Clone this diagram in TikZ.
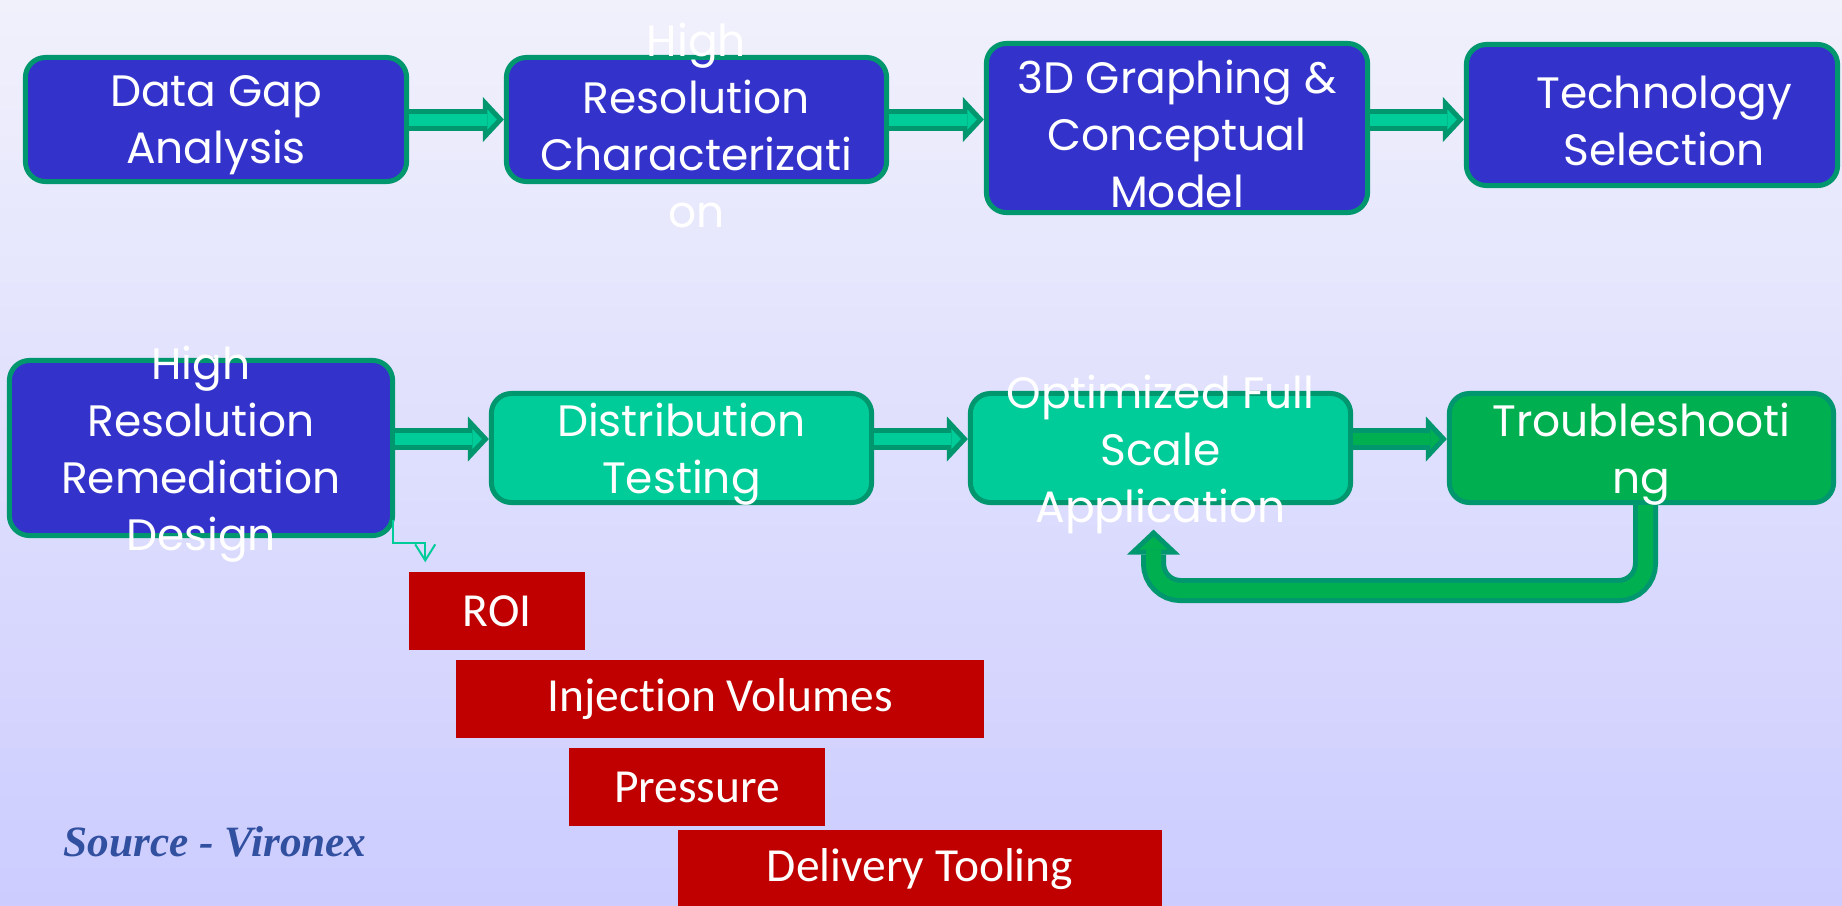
\documentclass[tikz,border=0pt]{standalone}
\usepackage{fontspec}
\usepackage{tikz}
\usetikzlibrary{calc,arrows.meta}
\newfontfamily\boxfont{Poppins}
\newfontfamily\tagfont[Ligatures=NoCommon]{Carlito}
\newfontfamily\srcfont{Liberation Serif}
\definecolor{bgtop}{RGB}{241,241,252}
\definecolor{bgbottom}{RGB}{204,204,255}
\definecolor{boxblue}{RGB}{51,51,204}
\definecolor{boxedge}{RGB}{0,150,110}
\definecolor{boxmint}{RGB}{0,204,153}
\definecolor{boxgreen}{RGB}{0,176,80}
\definecolor{tagred}{RGB}{192,0,0}
\definecolor{srcblue}{RGB}{50,80,160}

\begin{document}
\begin{tikzpicture}[x=0.01cm, y=-0.01cm,
  stepbox/.style={draw=boxedge, line width=0.05cm, rounded corners=0.2cm, inner sep=0pt},
  bluebox/.style={stepbox, fill=boxblue},
  mintbox/.style={stepbox, fill=boxmint},
  greenbox/.style={stepbox, fill=boxgreen},
  steptext/.style={text=white, align=center, inner sep=0pt, yshift=-0.06cm, font=\boxfont\fontsize{12.5}{16.2}\selectfont},
  tagbox/.style={fill=tagred, text=white, minimum height=0.78cm, inner sep=0pt, font=\tagfont\fontsize{13.5}{16}\selectfont},
  flowout/.style={draw=boxedge, line width=0.22cm, -{Triangle[length=0.21cm, width=0.45cm, line width=0pt]}},
  flowin/.style={draw=#1, line width=0.12cm, shorten >=0.07cm, -{Triangle[length=0.095cm, width=0.2cm, line width=0pt]}},
  loopout/.style={draw=boxedge, line width=0.25cm, rounded corners=0.27cm, -{Triangle[length=0.25cm, width=0.53cm, line width=0pt]}},
  loopin/.style={draw=boxgreen, line width=0.15cm, rounded corners=0.27cm, shorten >=0.07cm, -{Triangle[length=0.13cm, width=0.28cm, line width=0pt]}},
  hint/.style={draw=boxmint, line width=0.02cm, -{Straight Barb[length=0.16cm, width=0.2cm]}}]

  \shade[top color=bgtop, bottom color=bgbottom] (0,0) rectangle (1842,905);
  \useasboundingbox (0,0) rectangle (1842,905);

  % top row
  \node[bluebox, minimum width=3.81cm, minimum height=1.24cm] (dga) at (216,119.5) {};
  \node[steptext] (dga-t) at (dga) {Data Gap\\Analysis};
  \node[bluebox, minimum width=3.80cm, minimum height=1.24cm] (hrc) at (696.5,119.5) {};
  \node[steptext] (hrc-t) at (hrc) {High\\Resolution\\Characterizati\\on};
  \node[bluebox, minimum width=3.81cm, minimum height=1.69cm] (gcm) at (1177,128) {};
  \node[steptext] (gcm-t) at (gcm) {3D Graphing \&\\Conceptual\\Model};
  \node[bluebox, minimum width=3.71cm, minimum height=1.41cm] (tsl) at (1652,115) {};
  \node[steptext] (tsl-t) at ($(tsl)+(12,0)$) {Technology\\Selection};

  \draw[flowout] (dga.east) -- (hrc.west);
  \draw[flowin=boxmint] (dga.east) -- (hrc.west);
  \draw[flowout] (hrc.east) -- (hrc.east -| gcm.west);
  \draw[flowin=boxmint] (hrc.east) -- (hrc.east -| gcm.west);
  \draw[flowout] (gcm.east |- hrc.east) -- (tsl.west |- hrc.east);
  \draw[flowin=boxmint] (gcm.east |- hrc.east) -- (tsl.west |- hrc.east);

  % bottom row
  \node[bluebox, minimum width=3.83cm, minimum height=1.75cm] (hrd) at (201,448) {};
  \node[steptext] (hrd-t) at (hrd) {High\\Resolution\\Remediation\\Design};
  \node[mintbox, minimum width=3.80cm, minimum height=1.09cm] (dts) at (681.5,448) {};
  \node[steptext] (dts-t) at (dts) {Distribution\\Testing};
  \node[mintbox, minimum width=3.80cm, minimum height=1.09cm] (ofs) at (1160.5,448) {};
  \node[steptext] (ofs-t) at (ofs) {Optimized Full\\Scale\\Application};
  \node[greenbox, minimum width=3.84cm, minimum height=1.09cm] (trb) at (1641.5,448) {};
  \node[steptext] (trb-t) at (trb) {Troubleshooti\\ng};

  \draw[flowout] ($(hrd.east)+(0,-9)$) -- ($(dts.west)+(0,-9)$);
  \draw[flowin=boxmint] ($(hrd.east)+(0,-9)$) -- ($(dts.west)+(0,-9)$);
  \draw[flowout] ($(dts.east)+(0,-9)$) -- ($(ofs.west)+(0,-9)$);
  \draw[flowin=boxmint] ($(dts.east)+(0,-9)$) -- ($(ofs.west)+(0,-9)$);
  \draw[flowout] ($(ofs.east)+(0,-9)$) -- ($(trb.west)+(0,-9)$);
  \draw[flowin=boxgreen] ($(ofs.east)+(0,-9)$) -- ($(trb.west)+(0,-9)$);

  % loop back
  \draw[loopout] ($(trb.south)+(4,0)$) -- ++(0,85.5) -| ($(ofs.south)+(-7,24.5)$);
  \draw[loopin] ($(trb.south)+(4,0)$) -- ++(0,85.5) -| ($(ofs.south)+(-7,24.5)$);

  % tasks
  \node[tagbox, minimum width=1.76cm] (roi) at (497,611) {ROI};
  \node[tagbox, minimum width=5.28cm] (ijv) at (720,699) {Injection Volumes};
  \node[tagbox, minimum width=2.56cm] (prs) at (697,787) {Pressure};
  \node[tagbox, minimum width=4.84cm] (dlt) at (920,869) {Delivery Tooling};
  \draw[hint] ($(hrd.south east)+(-2,-18)$) -- ++(0,23) -| ($(roi.north west)+(17,-9)$);

  % source
  \node[text=srcblue, anchor=base west, inner sep=0pt, font=\srcfont\bfseries\itshape\fontsize{12.3}{14}\selectfont] (src) at (63,856) {Source - Vironex};
\end{tikzpicture}
\end{document}
